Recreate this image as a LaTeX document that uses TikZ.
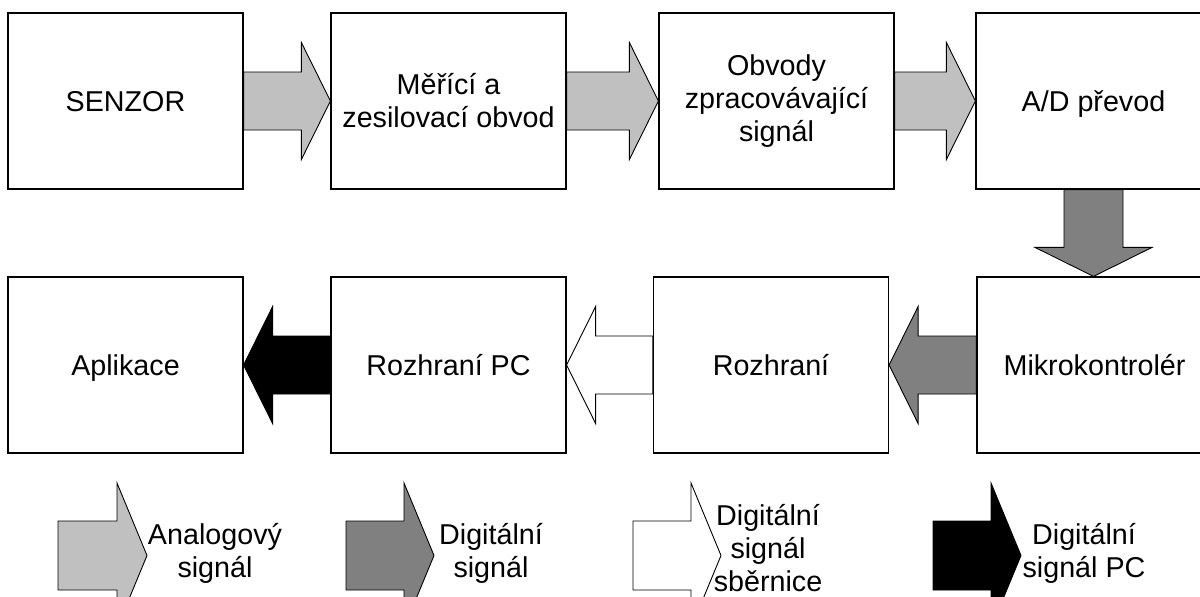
\documentclass[tikz,border=0pt]{standalone}
\usepackage{fontspec}
\setmainfont{Liberation Sans}
\usetikzlibrary{calc}
\definecolor{analoggray}{HTML}{C0C0C0}
\definecolor{digitalgray}{HTML}{808080}
\tikzset{
  txt/.style={font=\fontsize{14.35pt}{16.5pt}\selectfont},
  blk/.style={txt, draw, line width=0.6pt, fill=white, minimum width=117.5pt,
              minimum height=88pt, inner sep=0pt, align=center},
  oneline/.style={text depth=0pt},
  lbl/.style={txt, inner sep=0pt, align=center},
  barrow/.style={draw, line width=0.45pt, line join=miter},
  ana/.style={barrow, fill=analoggray},
  dig/.style={barrow, fill=digitalgray},
  bus/.style={barrow, fill=white},
  pcsig/.style={barrow, fill=black},
}
% arrow proportions: half body width, half head width, head length
\def\bodyhalf{14.5pt}
\def\headhalf{29.25pt}
\def\headlen{14.5pt}
% horizontal block arrow from point #2 to point #3 (either direction)
\newcommand\hblock[3]{%
  \path[#1] let \p1=(#2), \p2=(#3), \n1={sign(\x2-\x1)} in
    (\x1,\y1+\bodyhalf) -- ({\x2-\n1*\headlen},\y1+\bodyhalf) -- ({\x2-\n1*\headlen},\y1+\headhalf)
    -- (\x2,\y1) -- ({\x2-\n1*\headlen},\y1-\headhalf) -- ({\x2-\n1*\headlen},\y1-\bodyhalf)
    -- (\x1,\y1-\bodyhalf) -- cycle;}
% downward block arrow from point #2 to point #3
\newcommand\vblock[3]{%
  \path[#1] let \p1=(#2), \p2=(#3) in
    (\x1-14.75pt,\y1) -- (\x1-14.75pt,\y2+\headlen) -- (\x1-\headhalf,\y2+\headlen)
    -- (\x1,\y2) -- (\x1+\headhalf,\y2+\headlen) -- (\x1+14.75pt,\y2+\headlen)
    -- (\x1+14.75pt,\y1) -- cycle;}
\begin{document}
\begin{tikzpicture}[x=0.5pt, y=-0.5pt]
\useasboundingbox (0,0) rectangle (1200,596);
\clip (0,0) rectangle (1200,596);

% signal chain, upper row
\node[blk, oneline] (s1) at (125.5,101) {SENZOR};
\node[blk] (s2) at (448.5,101) {Měřící a\\zesilovací obvod};
\node[blk] (s3) at (776.5,101) {Obvody\\zpracovávající\\signál};
\node[blk, oneline] (s4) at (1093.5,101) {A/D převod};

% lower row
\node[blk, oneline] (m1) at (125.5,365) {Aplikace};
\node[blk, oneline] (m2) at (448.5,365) {Rozhraní PC};
\node[blk, oneline] (m3) at (771,365) {Rozhraní};
\node[blk, oneline] (m4) at (1094.5,365) {Mikrokontrolér};

% block arrows between the stages
\hblock{ana}{s1.east}{s2.west}
\hblock{ana}{s2.east}{s3.west}
\hblock{ana}{s3.east}{s4.west}
\vblock{dig}{s4.south}{m4.north}
\hblock{dig}{m4.west}{m3.east}
\hblock{bus}{m3.west}{m2.east}
\hblock{pcsig}{m2.west}{m1.east}

% legend, with slightly larger arrows
\begin{scope}
\def\bodyhalf{17.25pt}
\def\headhalf{36.25pt}
\def\headlen{15pt}
\coordinate (la1) at (58,555.5);  \coordinate (la2) at (147,555.5);
\coordinate (ld1) at (346,555.5); \coordinate (ld2) at (434,555.5);
\coordinate (lb1) at (633,555.5); \coordinate (lb2) at (721,555.5);
\coordinate (lp1) at (933,555.5); \coordinate (lp2) at (1021,555.5);
\hblock{ana}{la1}{la2}
\hblock{dig}{ld1}{ld2}
\hblock{bus}{lb1}{lb2}
\hblock{pcsig}{lp1}{lp2}
\end{scope}
\node[lbl] (ta) at (215,553) {Analogový\\signál};
\node[lbl] (td) at (491,553) {Digitální\\signál};
\node[lbl] (tb) at (768,548) {Digitální\\signál\\sběrnice};
\node[lbl] (tp) at (1084,553) {Digitální\\signál PC};
\end{tikzpicture}
\end{document}
